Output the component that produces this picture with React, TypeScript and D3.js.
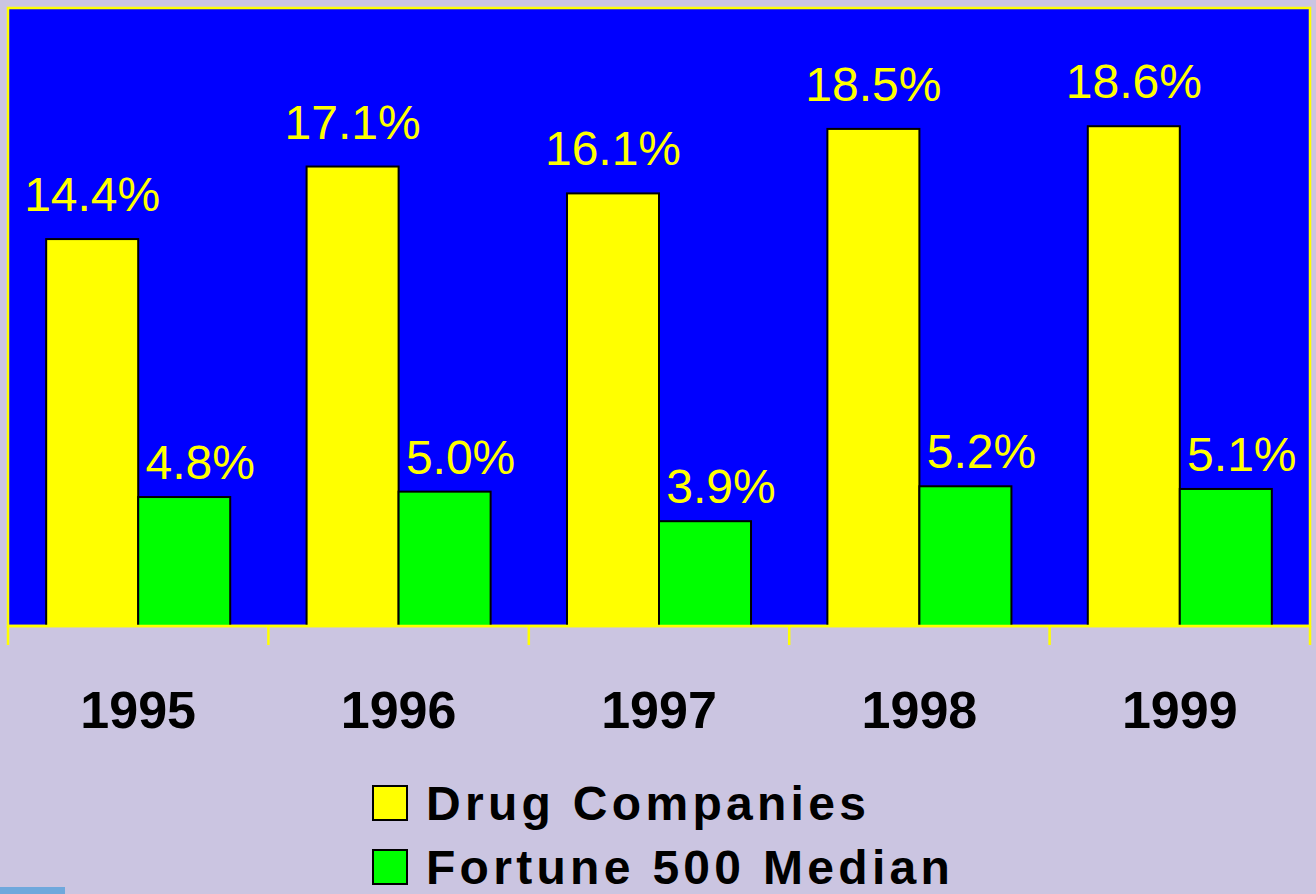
import React, { useEffect, useRef } from 'react'
import * as d3 from 'd3'

const years = ['1995', '1996', '1997', '1998', '1999']
const drugCompanies = [14.4, 17.1, 16.1, 18.5, 18.6]
const fortune500 = [4.8, 5.0, 3.9, 5.2, 5.1]
const seriesNames = ['Drug Companies', 'Fortune 500 Median']
const seriesColors = ['#ffff00', '#00ff00']

function App() {
  const ref = useRef<SVGSVGElement | null>(null)

  useEffect(() => {
    const svg = d3.select(ref.current)
    svg.selectAll('*').remove()

    const width = 1316
    const height = 894
    const plot = { left: 8, right: 1310, top: 8, bottom: 626 }

    svg.attr('width', width).attr('height', height)

    svg.append('rect')
      .attr('width', width).attr('height', height)
      .attr('fill', '#cbc5e1')

    // plot area
    svg.append('rect')
      .attr('x', plot.left).attr('y', plot.top)
      .attr('width', plot.right - plot.left).attr('height', plot.bottom - plot.top)
      .attr('fill', '#0000ff')
      .attr('stroke', '#ffff00')
      .attr('stroke-width', 2.5)

    const x = d3.scaleBand()
      .domain(years)
      .range([plot.left, plot.right])
      .paddingInner(0)
      .paddingOuter(0)

    const inner = d3.scaleBand()
      .domain(['0', '1'])
      .range([0, x.bandwidth()])
      .paddingInner(0)
      .paddingOuter(0.415)

    const y = d3.scaleLinear()
      .domain([0, 23])
      .range([plot.bottom, plot.top])

    const data = [drugCompanies, fortune500]

    data.forEach((values, s) => {
      const g = svg.append('g')
      g.selectAll('rect')
        .data(values)
        .enter()
        .append('rect')
        .attr('x', (d, i) => x(years[i])! + inner(String(s))!)
        .attr('y', d => y(d))
        .attr('width', inner.bandwidth())
        .attr('height', d => y(0) - y(d))
        .attr('fill', seriesColors[s])
        .attr('stroke', '#000')
        .attr('stroke-width', 2)

      g.selectAll('text')
        .data(values)
        .enter()
        .append('text')
        .attr('x', (d, i) => x(years[i])! + inner(String(s))! + inner.bandwidth() / 2 + (s === 1 ? 16 : 0))
        .attr('y', d => y(d) - (s === 1 ? 18 : 28))
        .attr('text-anchor', 'middle')
        .attr('font-family', '"Liberation Sans", Arial, sans-serif')
        .attr('font-size', 48)
        .attr('fill', '#ffff00')
        .text(d => d.toFixed(1) + '%')
    })

    // x axis line + ticks
    svg.append('line')
      .attr('x1', plot.left).attr('x2', plot.right)
      .attr('y1', plot.bottom).attr('y2', plot.bottom)
      .attr('stroke', '#ffff00').attr('stroke-width', 2.5)

    const tickXs = years.map(yr => x(yr)!).concat([plot.right])
    svg.selectAll('.tick')
      .data(tickXs)
      .enter()
      .append('line')
      .attr('x1', d => d).attr('x2', d => d)
      .attr('y1', plot.bottom).attr('y2', 645)
      .attr('stroke', '#ffff00').attr('stroke-width', 2.5)

    svg.selectAll('.year')
      .data(years)
      .enter()
      .append('text')
      .attr('x', d => x(d)! + x.bandwidth() / 2)
      .attr('y', 728)
      .attr('text-anchor', 'middle')
      .attr('font-family', '"Liberation Sans", Arial, sans-serif')
      .attr('font-weight', 'bold')
      .attr('font-size', 52)
      .attr('fill', '#000')
      .text(d => d)

    // legend
    const legend = svg.append('g').attr('transform', 'translate(373,786)')
    seriesNames.forEach((name, i) => {
      legend.append('rect')
        .attr('x', 0).attr('y', i * 64)
        .attr('width', 34).attr('height', 34)
        .attr('fill', seriesColors[i])
        .attr('stroke', '#000').attr('stroke-width', 2)
      legend.append('text')
        .attr('x', 53).attr('y', i * 64 + 34)
        .attr('font-family', '"Liberation Sans", Arial, sans-serif')
        .attr('font-weight', 'bold')
        .attr('font-size', 48)
        .attr('letter-spacing', 4.3)
        .attr('fill', '#000')
        .text(name)
    })

    svg.append('rect')
      .attr('x', 0).attr('y', 887)
      .attr('width', 65).attr('height', 7)
      .attr('fill', '#6fa8dc')
  }, [])

  return (
    <svg ref={ref} style={{ position: 'absolute', left: 0, top: 0, display: 'block' }}></svg>
  )
}

export default App
